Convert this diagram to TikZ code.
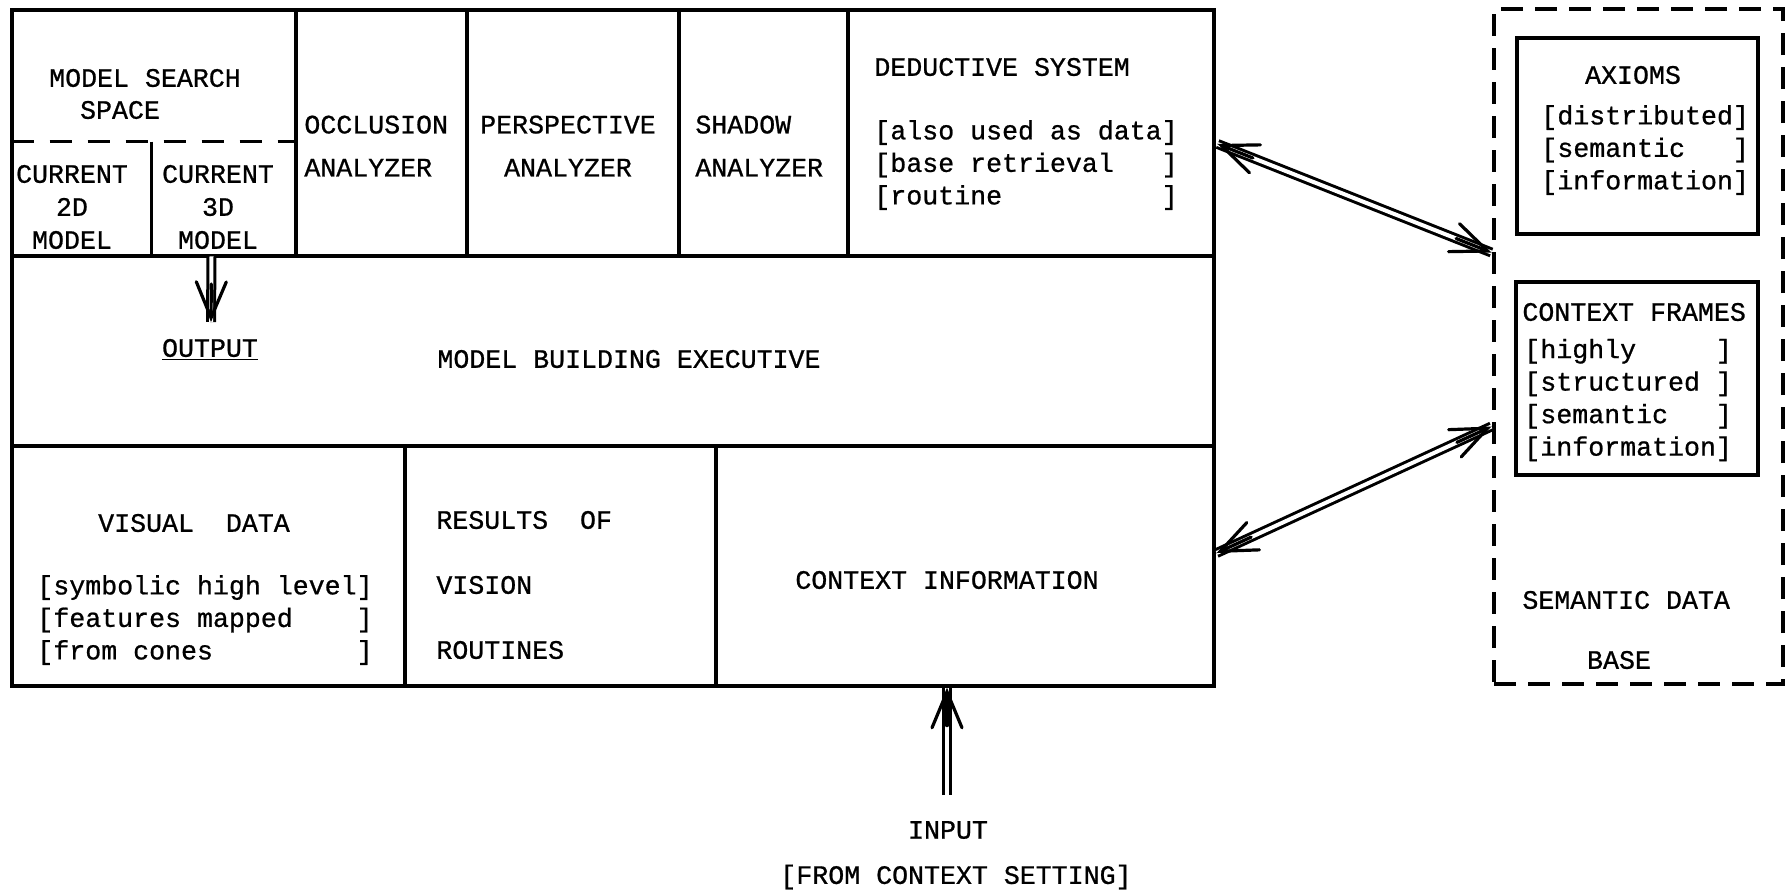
\documentclass[tikz,border=0pt]{standalone}
\usepackage{fontspec}
\setmainfont{Liberation Mono}[FakeBold=0.8]
\usetikzlibrary{arrows.meta,fit,calc}
\begin{document}
\begin{tikzpicture}[x=0.5pt,y=-0.5pt,
  cell/.style={draw, line width=1.6pt, inner sep=0pt},
  ghost/.style={inner sep=0pt},
  semdash/.style={dash pattern=on 11pt off 6pt},
  srchdash/.style={line width=1.6pt, dash pattern=on 11pt off 8pt},
  txt/.style={inner sep=0pt, font=\fontsize{13.3pt}{16.25pt}\selectfont},
  dbl/.style={double, double distance=2pt, line width=1.5pt},
  barb/.style={line width=1.6pt, line cap=round, -{Straight Barb[length=18pt, width=15pt, line cap=round]}}]
\fill[white] (0,0) rectangle (1788,895);
\useasboundingbox (0,0) rectangle (1788,895);

% main frame cells
\node[cell, fit={(12,10) (296,256)}] (search) {};
\node[cell, fit={(296,10) (467,256)}] (occlcell) {};
\node[cell, fit={(467,10) (679,256)}] (perspcell) {};
\node[cell, fit={(679,10) (848,256)}] (shadowcell) {};
\node[cell, fit={(848,10) (1214,256)}] (deduct) {};
\node[cell, fit={(12,256) (1214,446)}] (mbecell) {};
\node[cell, fit={(12,446) (405,686)}] (vdcell) {};
\node[cell, fit={(405,446) (716,686)}] (rvrcell) {};
\node[cell, fit={(716,446) (1214,686)}] (ctx) {};
\node[ghost, fit={(12,142) (151,256)}] (cur2d) {};
\node[ghost, fit={(151,142) (296,256)}] (cur3d) {};
\draw[srchdash] (cur2d.north west) -- (cur3d.north east);
\draw[line width=1.6pt] (cur2d.north east) -- (cur2d.south east);

% semantic data base
\node[cell, semdash, fit={(1494,9) (1783,684)}] (sem) {};
\node[cell, line width=1.8pt, fit={(1517,38) (1758,234)}] (axcell) {};
\node[cell, line width=1.8pt, fit={(1516,282) (1758,475)}] (cfcell) {};

% texts top row
\node[txt] (mss1) at (145,78) {MODEL SEARCH};
\node[txt] (mss2) at (120,110) {SPACE};
\node[txt, align=center, font=\fontsize{13.3pt}{16.5pt}\selectfont] (c2d) at (72,207) {CURRENT\\2D\\MODEL};
\node[txt, align=center, font=\fontsize{13.3pt}{16.5pt}\selectfont] (c3d) at (218,207) {CURRENT\\3D\\MODEL};
\node[txt, align=left, anchor=west, font=\fontsize{13.3pt}{21.5pt}\selectfont] (occl) at (304,146) {OCCLUSION\\ANALYZER};
\node[txt, align=center, font=\fontsize{13.3pt}{21.5pt}\selectfont] (persp) at (568,146) {PERSPECTIVE\\ANALYZER};
\node[txt, align=left, anchor=west, font=\fontsize{13.3pt}{21.5pt}\selectfont] (shadow) at (695,146) {SHADOW\\ANALYZER};
\node[txt, anchor=west] (dedt) at (874,67) {DEDUCTIVE SYSTEM};
\node[txt, align=left, anchor=west] (dedb) at (874,165) {[also used as data]\\\relax[base retrieval\ \ \ ]\\\relax[routine\ \ \ \ \ \ \ \ \ \ ]};

% middle row
\node[txt] (mbe) at (629,359) {MODEL BUILDING EXECUTIVE};
\node[txt] (output) at (210,350) {\underline{OUTPUT}};

% bottom row
\node[txt] (vd) at (194,523) {VISUAL\ \ DATA};
\node[txt, align=left, anchor=west] (vdb) at (37,620) {[symbolic high level]\\\relax[features mapped\ \ \ \ ]\\\relax[from cones\ \ \ \ \ \ \ \ \ ]};
\node[txt, align=left, anchor=west, font=\fontsize{13.3pt}{32.5pt}\selectfont] (rvr) at (436,585) {RESULTS\ \ OF\\VISION\\ROUTINES};
\node[txt] (ci) at (947,580) {CONTEXT INFORMATION};

% input
\node[txt] (inp) at (948,830) {INPUT};
\node[txt] (fcs) at (956,877) {[FROM CONTEXT SETTING]};

% semantic texts
\node[txt] (ax) at (1633,75) {AXIOMS};
\node[txt, align=left, anchor=west] (axb) at (1541,150) {[distributed]\\\relax[semantic\ \ \ ]\\\relax[information]};
\node[txt, anchor=west] (cf) at (1522,312) {CONTEXT FRAMES};
\node[txt, align=left, anchor=west] (cfb) at (1524,400) {[highly\ \ \ \ \ ]\\\relax[structured\ ]\\\relax[semantic\ \ \ ]\\\relax[information]};
\node[txt, anchor=west] (sd) at (1522,600) {SEMANTIC DATA};
\node[txt] (base) at (1619,660) {BASE};

% connectors
\coordinate (a1) at ($(deduct.east)+(2,11)$);
\coordinate (b1) at ($(sem.west)+(-1,-94)$);
\coordinate (a2) at ($(ctx.east)+(1,-13)$);
\coordinate (b2) at ($(sem.west)+(-1,80)$);
\coordinate (outtop) at ($(cur3d.south)+(-12,0)$);
\coordinate (outtip) at (211,322);
\coordinate (intail) at (947,795);
\coordinate (intip) at (intail |- ctx.south);

\draw[dbl] (a1) -- (b1);
\draw[barb] ($(a1)!19pt!(b1)$) -- (a1);
\draw[barb] ($(b1)!19pt!(a1)$) -- (b1);

\draw[dbl] (a2) -- (b2);
\draw[barb] ($(a2)!19pt!(b2)$) -- (a2);
\draw[barb] ($(b2)!19pt!(a2)$) -- (b2);

\draw[dbl] (outtop) -- (outtip);
\draw[barb] ($(outtip)!19pt!(outtop)$) -- (outtip);

\draw[dbl] (intail) -- (intip);
\draw[barb] ($(intip)!19pt!(intail)$) -- (intip);
\end{tikzpicture}
\end{document}
